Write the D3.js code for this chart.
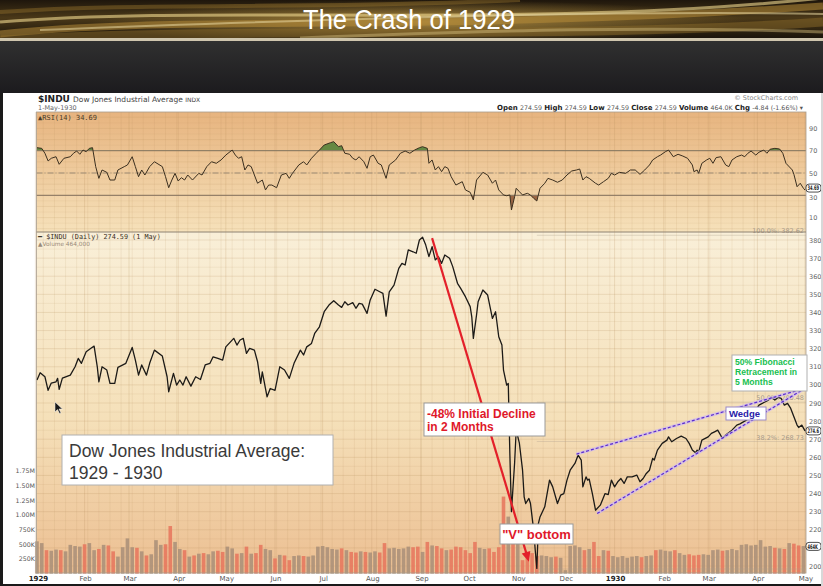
<!DOCTYPE html>
<html lang="en">
<head>
<meta charset="UTF-8">
<title>The Crash of 1929</title>
<script src="https://d3js.org/d3.v7.min.js"></script>
<style>
  body { margin: 0; background: #111; }
  svg { display: block; }
</style>
</head>
<body>
<svg id="chart" width="823" height="586"></svg>
<script>
// daily closes
var priceData = [
  ["1929-01-02",302.7],["1929-01-04",306.7],["1929-01-07",304.5],["1929-01-09",297],["1929-01-11",301],
  ["1929-01-14",301.7],["1929-01-15",303.6],["1929-01-16",297.5],["1929-01-18",303.7],["1929-01-23",305.4],
  ["1929-01-26",310],["1929-01-28",314.6],["1929-01-30",311.9],["1929-02-02",318.3],["1929-02-05",320.2],
  ["1929-02-07",321.4],["1929-02-09",310],["1929-02-10",301.7],["1929-02-12",310],["1929-02-15",308.2],
  ["1929-02-17",300.8],["1929-02-20",300.8],["1929-02-22",309.7],["1929-02-27",311.9],["1929-03-03",320.7],
  ["1929-03-05",313.7],["1929-03-07",305.4],["1929-03-09",311],["1929-03-12",305.4],["1929-03-14",311.9],
  ["1929-03-17",319.2],["1929-03-22",315.9],["1929-03-25",304.5],["1929-03-26",296.2],["1929-03-29",306.4],
  ["1929-03-31",299.9],["1929-04-02",302.7],["1929-04-04",299.9],["1929-04-06",304.5],["1929-04-09",299.3],
  ["1929-04-12",304.5],["1929-04-15",303],["1929-04-18",311],["1929-04-21",311.9],["1929-04-23",315.5],
  ["1929-04-26",314.6],["1929-04-29",313.7],["1929-05-01",321],["1929-05-06",325.7],["1929-05-08",322],
  ["1929-05-10",324.8],["1929-05-12",325.7],["1929-05-14",317.4],["1929-05-16",320.2],["1929-05-19",319.2],
  ["1929-05-21",312.8],["1929-05-23",300.8],["1929-05-24",307.2],["1929-05-27",293.4],["1929-05-29",298],
  ["1929-06-01",297],["1929-06-04",310],["1929-06-07",308.2],["1929-06-10",303.6],["1929-06-13",311.9],
  ["1929-06-17",319.2],["1929-06-19",316.5],["1929-06-21",321],["1929-06-24",322.9],["1929-06-26",328.4],
  ["1929-06-29",332.1],["1929-07-02",340.4],["1929-07-05",344.1],["1929-07-08",346.5],["1929-07-11",344.1],
  ["1929-07-13",342.8],["1929-07-15",345.9],["1929-07-17",344.1],["1929-07-20",345.4],["1929-07-22",342.3],
  ["1929-07-24",345],["1929-07-26",344.6],["1929-07-29",339.5],["1929-07-31",346.9],["1929-08-03",352.8],
  ["1929-08-06",351.4],["1929-08-08",350.5],["1929-08-10",338],["1929-08-12",351.4],["1929-08-15",355.1],
  ["1929-08-18",364.3],["1929-08-20",367.1],["1929-08-22",366.2],["1929-08-24",374.5],["1929-08-27",373.5],
  ["1929-08-29",372.7],["1929-08-31",380],["1929-09-02",381.5],["1929-09-04",377.2],["1929-09-06",370.8],
  ["1929-09-08",376.3],["1929-09-10",369],["1929-09-12",370.8],["1929-09-14",367.1],["1929-09-16",371.7],
  ["1929-09-19",369.9],["1929-09-21",365.3],["1929-09-24",356.1],["1929-09-26",353.3],["1929-09-29",348.7],
  ["1929-10-02",343.2],["1929-10-03",337.6],["1929-10-04",325.7],["1929-10-06",338.6],["1929-10-07",345.9],
  ["1929-10-10",352.4],["1929-10-13",349.6],["1929-10-16",336.7],["1929-10-18",340.4],["1929-10-20",326.6],
  ["1929-10-22",322],["1929-10-23",308.2],["1929-10-25",299.9],["1929-10-26",300.8],["1929-10-27",262],
  ["1929-10-28",230],["1929-10-30",257],["1929-10-31",275],["1929-11-02",267.8],["1929-11-04",252.9],
  ["1929-11-05",238.2],["1929-11-06",234.5],["1929-11-08",237.3],["1929-11-09",234.5],["1929-11-11",219.8],
  ["1929-11-12",208.7],["1929-11-13",198.7],["1929-11-14",223.5],["1929-11-15",227.1],["1929-11-18",232.7],
  ["1929-11-21",247.4],["1929-11-23",243.7],["1929-11-26",234.5],["1929-11-28",239.1],["1929-11-30",240],
  ["1929-12-02",247.4],["1929-12-04",252.9],["1929-12-07",256.6],["1929-12-09",261.2],["1929-12-11",258.5],
  ["1929-12-12",243.7],["1929-12-14",249.2],["1929-12-15",247.4],["1929-12-16",248],["1929-12-18",240],
  ["1929-12-20",230.8],["1929-12-23",233.6],["1929-12-26",240],["1929-12-28",239.4],["1929-12-30",247.4],
  ["1930-01-01",243.7],["1930-01-03",246.5],["1930-01-05",248.3],["1930-01-07",245.6],["1930-01-09",249.2],
  ["1930-01-12",249.2],["1930-01-15",250.2],["1930-01-17",246.5],["1930-01-19",248.3],["1930-01-21",251.1],
  ["1930-01-23",252.9],["1930-01-25",259.4],["1930-01-26",258.5],["1930-01-28",264],["1930-01-31",267.7],
  ["1930-02-03",269.5],["1930-02-04",271.3],["1930-02-06",268.6],["1930-02-09",270.4],["1930-02-12",271.7],
  ["1930-02-15",270.4],["1930-02-17",267.7],["1930-02-19",264],["1930-02-21",262.5],["1930-02-22",264],
  ["1930-02-23",263],["1930-02-25",269.5],["1930-03-01",271.3],["1930-03-03",273.2],["1930-03-05",274.1],
  ["1930-03-07",275],["1930-03-10",270.4],["1930-03-12",272.3],["1930-03-16",275],["1930-03-19",277.8],
  ["1930-03-21",278.5],["1930-03-24",280],["1930-03-26",281],["1930-03-29",282],["1930-03-31",286],
  ["1930-04-02",288.8],["1930-04-06",290.7],["1930-04-08",291.6],["1930-04-10",293.1],["1930-04-12",291.6],
  ["1930-04-14",293.1],["1930-04-16",292.5],["1930-04-18",288.8],["1930-04-20",289.8],["1930-04-22",287],
  ["1930-04-24",282.4],["1930-04-26",277.8],["1930-04-27",276.5],["1930-04-29",277.8],["1930-05-01",274.59]
];

// RSI(14)
var rsiData = [
  ["1929-01-02",72.7],["1929-01-05",72.1],["1929-01-07",67.7],["1929-01-09",60.8],["1929-01-11",63.2],
  ["1929-01-14",64.6],["1929-01-16",57.8],["1929-01-19",63.2],["1929-01-23",64.6],["1929-01-25",67.7],
  ["1929-01-27",69.7],["1929-01-29",66.8],["1929-01-31",70.6],["1929-02-02",69.1],["1929-02-04",72.1],
  ["1929-02-06",72.7],["1929-02-08",55.7],["1929-02-10",45.2],["1929-02-12",52.7],["1929-02-15",50.6],
  ["1929-02-17",43.7],["1929-02-20",43.7],["1929-02-22",52.7],["1929-02-26",55.7],["1929-02-28",57.2],
  ["1929-03-03",64.6],["1929-03-05",55.7],["1929-03-07",46.7],["1929-03-09",52.7],["1929-03-11",48.2],
  ["1929-03-14",55.7],["1929-03-17",60.1],["1929-03-22",55.7],["1929-03-24",46.7],["1929-03-26",36.8],
  ["1929-03-28",43.7],["1929-03-30",49.7],["1929-04-01",42.8],["1929-04-03",45.8],["1929-04-05",43.7],
  ["1929-04-07",48.2],["1929-04-10",43.7],["1929-04-14",49.7],["1929-04-16",48.2],["1929-04-19",55.7],
  ["1929-04-22",60.1],["1929-04-25",58.7],["1929-04-28",61.7],["1929-05-01",66.1],["1929-05-05",70.6],
  ["1929-05-07",66.1],["1929-05-09",63.2],["1929-05-11",64.6],["1929-05-13",52.7],["1929-05-15",57.2],
  ["1929-05-17",55.7],["1929-05-19",48.2],["1929-05-21",40.8],["1929-05-24",43.7],["1929-05-26",34.8],
  ["1929-05-28",39.2],["1929-05-30",39.2],["1929-06-02",36.8],["1929-06-05",48.2],["1929-06-08",49.7],
  ["1929-06-10",45.2],["1929-06-12",49.7],["1929-06-16",57.2],["1929-06-19",60.1],["1929-06-21",57.2],
  ["1929-06-24",63.2],["1929-06-27",67.7],["1929-06-29",70.6],["1929-07-02",75.1],["1929-07-06",77.2],
  ["1929-07-08",78.1],["1929-07-11",73.6],["1929-07-13",74.5],["1929-07-15",67.7],["1929-07-18",66.8],
  ["1929-07-20",63.2],["1929-07-22",61.7],["1929-07-24",64.6],["1929-07-27",60.1],["1929-07-29",54.2],
  ["1929-07-31",64.6],["1929-08-02",66.1],["1929-08-05",58.7],["1929-08-07",57.2],["1929-08-10",45.2],
  ["1929-08-12",57.2],["1929-08-16",61.7],["1929-08-19",67.7],["1929-08-22",69.7],["1929-08-25",67.7],
  ["1929-08-28",70.6],["1929-08-31",72.7],["1929-09-02",73.6],["1929-09-05",72.1],["1929-09-06",58.7],
  ["1929-09-08",61.7],["1929-09-10",52.7],["1929-09-12",55.7],["1929-09-14",51.2],["1929-09-16",55.7],
  ["1929-09-18",54.2],["1929-09-20",46.7],["1929-09-23",39.2],["1929-09-27",42.2],["1929-09-29",34.8],
  ["1929-10-02",32.7],["1929-10-04",25.8],["1929-10-06",43.7],["1929-10-10",50.6],["1929-10-13",48.2],
  ["1929-10-16",40.8],["1929-10-18",43.7],["1929-10-20",34.8],["1929-10-23",30.3],["1929-10-25",29.6],
  ["1929-10-27",30.3],["1929-10-28",16.8],["1929-10-30",28.7],["1929-10-31",36.3],["1929-11-02",33.2],
  ["1929-11-04",30.3],["1929-11-07",31.8],["1929-11-09",30.3],["1929-11-11",27.3],["1929-11-13",24.9],
  ["1929-11-15",36.3],["1929-11-18",40.8],["1929-11-20",45.2],["1929-11-23",43.7],["1929-11-26",41.7],
  ["1929-11-29",43.7],["1929-12-02",48.2],["1929-12-05",51.8],["1929-12-08",52.7],["1929-12-10",53.6],
  ["1929-12-12",43.7],["1929-12-14",46.7],["1929-12-16",45.2],["1929-12-20",40.8],["1929-12-22",39.2],
  ["1929-12-25",42.2],["1929-12-28",45.2],["1929-12-30",49.7],["1930-01-01",48.2],["1930-01-04",50.6],
  ["1930-01-08",49.7],["1930-01-11",52.7],["1930-01-14",52.7],["1930-01-17",48.8],["1930-01-20",52.7],
  ["1930-01-23",57.2],["1930-01-25",61.7],["1930-01-28",64.6],["1930-01-30",66.1],["1930-02-02",69.1],
  ["1930-02-04",70.6],["1930-02-07",64.6],["1930-02-10",66.8],["1930-02-13",65.2],["1930-02-16",63.2],
  ["1930-02-19",57.2],["1930-02-20",51.2],["1930-02-22",52.7],["1930-02-23",49.7],["1930-02-25",58.7],
  ["1930-02-28",61.7],["1930-03-02",63.2],["1930-03-04",58.7],["1930-03-06",63.8],["1930-03-09",64.6],
  ["1930-03-12",57.2],["1930-03-14",55.7],["1930-03-16",61.7],["1930-03-19",64.6],["1930-03-22",66.1],
  ["1930-03-24",64.6],["1930-03-26",67.7],["1930-03-28",69.7],["1930-03-31",66.1],["1930-04-02",68.6],
  ["1930-04-05",70.6],["1930-04-07",67.7],["1930-04-09",71.3],["1930-04-12",72.1],["1930-04-15",71.5],
  ["1930-04-17",67.7],["1930-04-19",58.7],["1930-04-20",57.2],["1930-04-23",52.7],["1930-04-24",48.8],
  ["1930-04-26",37.7],["1930-04-28",40.8],["1930-04-30",36.3],["1930-05-01",34.69]
];

// volume in thousands, one bar every 3 days from volStart
var volStart = "1929-01-02";
var volumeK = [
  550,520,400,390,410,400,380,490,470,460,
  500,520,400,420,490,480,380,290,450,600,
  450,440,380,310,330,570,490,500,810,540,
  420,400,290,310,340,350,330,380,390,370,
  460,430,340,350,460,340,350,490,420,400,
  260,320,310,230,300,310,300,290,310,460,
  470,450,420,410,430,400,370,360,380,370,
  360,380,360,520,430,440,420,430,460,450,
  460,370,540,480,470,430,400,410,460,450,
  400,350,540,440,420,430,370,450,1310,970,
  800,690,230,370,350,300,310,300,280,290,
  270,60,470,480,450,400,420,540,300,400,
  390,300,280,300,270,290,300,280,300,310,
  400,410,390,380,400,350,320,330,310,320,
  330,320,400,410,390,400,420,400,490,500,
  480,490,570,460,470,440,430,420,520,510,
  480,470
];

var monthTicks = ["1929-01-01","1929-02-01","1929-03-01","1929-04-01","1929-05-01","1929-06-01","1929-07-01",
  "1929-08-01","1929-09-01","1929-10-01","1929-11-01","1929-12-01","1930-01-01","1930-02-01","1930-03-01",
  "1930-04-01","1930-05-01"];
var monthLabels = ["1929","Feb","Mar","Apr","May","Jun","Jul","Aug","Sep","Oct","Nov","Dec","1930","Feb","Mar","Apr","May"];
var priceTicks = [200,220,230,240,250,260,270,280,290,300,310,320,330,340,350,360,370,380];
var rsiTicks = [10,30,50,70,90];
var volTicks = [250000,500000,750000,1000000,1250000,1500000,1750000];
var volTickLabels = ["250K","500K","750K","1.00M","1.25M","1.50M","1.75M"];

// fibonacci levels and hand-drawn annotation lines
var fibLabels = ["100.0%: 382.62","50.0%: 290.48","38.2%: 268.73"];
var fibValues = [382.62, 290.48, 268.73];
var fibLow = 198.33;
var fibStart = "1929-11-13";
var declineArrow = [["1929-09-08",381],["1929-11-08",202.3]];
var wedgeUpper = [["1929-12-08",261.8],["1930-05-01",298.1]];
var wedgeLower = [["1929-12-21",229],["1930-05-01",298.1]];

var parse = d3.timeParse("%Y-%m-%d");
var prices = priceData.map(d => ({ date: parse(d[0]), close: d[1] }));
var rsi = rsiData.map(d => ({ date: parse(d[0]), value: d[1] }));
var volumes = volumeK.map((v, i) => ({ date: d3.timeDay.offset(parse(volStart), 3 * i), value: v * 1000 }));

var svg = d3.select("#chart");
var defs = svg.append("defs");

// ---------- slide background ----------
var bannerGrad = defs.append("linearGradient").attr("id", "banner").attr("x1", 0).attr("y1", 0).attr("x2", 0).attr("y2", 1);
bannerGrad.append("stop").attr("offset", "0%").attr("stop-color", "#1e160c");
bannerGrad.append("stop").attr("offset", "45%").attr("stop-color", "#4a3818");
bannerGrad.append("stop").attr("offset", "100%").attr("stop-color", "#16110a");

var glow = defs.append("radialGradient").attr("id", "glow").attr("cx", "50%").attr("cy", "50%").attr("r", "50%");
glow.append("stop").attr("offset", "0%").attr("stop-color", "#c9a24a").attr("stop-opacity", 0.75);
glow.append("stop").attr("offset", "100%").attr("stop-color", "#c9a24a").attr("stop-opacity", 0);

var bandGrad = defs.append("linearGradient").attr("id", "band").attr("x1", 0).attr("y1", 0).attr("x2", 0).attr("y2", 1);
bandGrad.append("stop").attr("offset", "0%").attr("stop-color", "#303030");
bandGrad.append("stop").attr("offset", "100%").attr("stop-color", "#1c1b1e");

svg.append("rect").attr("width", 823).attr("height", 586).attr("fill", "#161616");
svg.append("rect").attr("width", 823).attr("height", 40).attr("fill", "url(#banner)");
svg.append("ellipse").attr("cx", 420).attr("cy", 22).attr("rx", 330).attr("ry", 22).attr("fill", "url(#glow)");

var swooshes = [
  { d: "M0,34 C180,14 420,34 823,6", w: 7, c: "#b48a38", o: 0.55 },
  { d: "M0,22 C220,4 520,30 823,-2", w: 3, c: "#f0d890", o: 0.6 },
  { d: "M0,40 C260,26 560,40 823,22", w: 9, c: "#8a6a2a", o: 0.5 },
  { d: "M40,30 C300,20 600,10 823,14", w: 2, c: "#e8d7a0", o: 0.55 },
  { d: "M0,12 C150,2 300,10 520,0", w: 4, c: "#a07a30", o: 0.4 },
  { d: "M300,38 C500,30 650,26 823,32", w: 3, c: "#d8c080", o: 0.45 }
];
svg.append("g").selectAll("path")
  .data(swooshes)
  .enter().append("path")
  .attr("d", d => d.d)
  .attr("fill", "none")
  .attr("stroke", d => d.c)
  .attr("stroke-width", d => d.w)
  .attr("stroke-opacity", d => d.o);

svg.append("rect").attr("x", 0).attr("y", 38).attr("width", 823).attr("height", 3).attr("fill", "#cfc6ae");
svg.append("rect").attr("x", 0).attr("y", 41).attr("width", 823).attr("height", 52).attr("fill", "url(#band)");

svg.append("text")
  .attr("x", 409).attr("y", 29)
  .attr("text-anchor", "middle")
  .attr("textLength", 212).attr("lengthAdjust", "spacingAndGlyphs")
  .style("font-family", "'Liberation Sans Narrow', 'Liberation Sans', Arial, sans-serif")
  .style("font-size", "28px")
  .style("fill", "#ffffff")
  .text("The Crash of 1929");

// white chart page
svg.append("rect").attr("x", 3).attr("y", 93).attr("width", 818).attr("height", 491).attr("fill", "#ffffff");

// ---------- scales ----------
var plotLeft = 36.5, plotRight = 806;
var rsiTop = 112, rsiBottom = 232, priceTop = 232, priceBottom = 573;

var x = d3.scaleTime()
  .domain([parse("1929-01-01"), parse("1930-05-01")])
  .range([35.4, 805]);
var yPrice = d3.scaleLinear().domain([200, 380]).range([566, 240]);
var yRsi = d3.scaleLinear().domain([30, 70]).range([195.3, 150.7]);
var yVol = d3.scaleLinear().domain([0, 1750000]).range([573.7, 470.7]);

// panel backgrounds
var rsiGrad = defs.append("linearGradient").attr("id", "rsiBg").attr("x1", 0).attr("y1", 0).attr("x2", 0).attr("y2", 1);
rsiGrad.append("stop").attr("offset", "0%").attr("stop-color", "#e7b47f");
rsiGrad.append("stop").attr("offset", "100%").attr("stop-color", "#f6e1ba");
var priceGrad = defs.append("linearGradient").attr("id", "priceBg").attr("x1", 0).attr("y1", 0).attr("x2", 0).attr("y2", 1);
priceGrad.append("stop").attr("offset", "0%").attr("stop-color", "#f9efd8");
priceGrad.append("stop").attr("offset", "55%").attr("stop-color", "#f5e0b9");
priceGrad.append("stop").attr("offset", "100%").attr("stop-color", "#ecbf92");

svg.append("rect").attr("x", plotLeft).attr("y", rsiTop).attr("width", plotRight - plotLeft).attr("height", rsiBottom - rsiTop).attr("fill", "url(#rsiBg)");
svg.append("rect").attr("x", plotLeft).attr("y", priceTop).attr("width", plotRight - plotLeft).attr("height", priceBottom - priceTop).attr("fill", "url(#priceBg)");

// fine grid
var grid = svg.append("g").attr("stroke", "#b48c5a");
var weeks = d3.timeWeek.range(x.domain()[0], x.domain()[1]);
grid.selectAll("line.week")
  .data(weeks)
  .enter().append("line")
  .attr("class", "week")
  .attr("x1", d => x(d)).attr("x2", d => x(d))
  .attr("y1", rsiTop).attr("y2", priceBottom)
  .attr("stroke-opacity", 0.12);
grid.selectAll("line.month")
  .data(monthTicks.map(parse))
  .enter().append("line")
  .attr("class", "month")
  .attr("x1", d => x(d)).attr("x2", d => x(d))
  .attr("y1", rsiTop).attr("y2", priceBottom)
  .attr("stroke-opacity", 0.22);
grid.selectAll("line.ph")
  .data(d3.range(200, 385, 5))
  .enter().append("line")
  .attr("class", "ph")
  .attr("x1", plotLeft).attr("x2", plotRight)
  .attr("y1", d => yPrice(d)).attr("y2", d => yPrice(d))
  .attr("stroke-opacity", d => d % 10 === 0 ? 0.2 : 0.1);
grid.selectAll("line.rh")
  .data(d3.range(0, 101, 5))
  .enter().append("line")
  .attr("class", "rh")
  .attr("x1", plotLeft).attr("x2", plotRight)
  .attr("y1", d => yRsi(d)).attr("y2", d => yRsi(d))
  .attr("stroke-opacity", d => (d % 10 === 0 && yRsi(d) > rsiTop && yRsi(d) < rsiBottom) ? 0.16 : 0.08);

// ---------- volume ----------
var bisectDate = d3.bisector(d => d.date).right;
function isDown(date) {
  var i = bisectDate(prices, date) - 1;
  if (i < 1) return false;
  return prices[i].close < prices[i - 1].close;
}
svg.append("g").selectAll("rect")
  .data(volumes)
  .enter().append("rect")
  .attr("x", d => x(d.date) - 1.8)
  .attr("width", 3.6)
  .attr("y", d => yVol(d.value))
  .attr("height", d => yVol(0) - yVol(d.value))
  .attr("fill", d => isDown(d.date) ? "#e6745c" : "#a88e78")
  .attr("fill-opacity", 0.85);

// ---------- fibonacci lines ----------
var fibG = svg.append("g");
fibG.selectAll("line")
  .data(fibValues.concat([fibLow]))
  .enter().append("line")
  .attr("x1", x(parse(fibStart))).attr("x2", plotRight)
  .attr("y1", d => yPrice(d)).attr("y2", d => yPrice(d))
  .attr("stroke", "#b0a090").attr("stroke-opacity", 0.35);
fibG.selectAll("text")
  .data(fibLabels)
  .enter().append("text")
  .attr("x", 804)
  .attr("y", (d, i) => yPrice(fibValues[i]) - 2)
  .attr("text-anchor", "end")
  .style("font-family", "'DejaVu Sans', sans-serif")
  .style("font-size", "6.5px")
  .style("fill", "#a69a8a")
  .text(d => d);

// ---------- RSI panel ----------
var rsiG = svg.append("g");
defs.append("clipPath").attr("id", "overbought").append("rect")
  .attr("x", plotLeft).attr("y", rsiTop).attr("width", plotRight - plotLeft).attr("height", yRsi(70) - rsiTop);
defs.append("clipPath").attr("id", "oversold").append("rect")
  .attr("x", plotLeft).attr("y", yRsi(30)).attr("width", plotRight - plotLeft).attr("height", rsiBottom - yRsi(30));

rsiG.append("path")
  .datum(rsi)
  .attr("clip-path", "url(#overbought)")
  .attr("fill", "#4f7f35").attr("fill-opacity", 0.85)
  .attr("d", d3.area().x(d => x(d.date)).y0(yRsi(70)).y1(d => yRsi(d.value)));
rsiG.append("path")
  .datum(rsi)
  .attr("clip-path", "url(#oversold)")
  .attr("fill", "#8c5434").attr("fill-opacity", 0.85)
  .attr("d", d3.area().x(d => x(d.date)).y0(yRsi(30)).y1(d => yRsi(d.value)));

rsiG.selectAll("line.lvl")
  .data([70, 30])
  .enter().append("line")
  .attr("x1", plotLeft).attr("x2", plotRight)
  .attr("y1", d => yRsi(d)).attr("y2", d => yRsi(d))
  .attr("stroke", "#857561").attr("stroke-width", 1);
rsiG.append("line")
  .attr("x1", plotLeft).attr("x2", plotRight)
  .attr("y1", yRsi(50)).attr("y2", yRsi(50))
  .attr("stroke", "#9c8a74").attr("stroke-dasharray", "6,2,1,2");

rsiG.append("path")
  .datum(rsi)
  .attr("fill", "none")
  .attr("stroke", "#3b2f1f")
  .attr("stroke-width", 1)
  .attr("d", d3.line().x(d => x(d.date)).y(d => yRsi(d.value)));

// ---------- panel borders ----------
svg.append("rect").attr("x", plotLeft).attr("y", rsiTop).attr("width", plotRight - plotLeft).attr("height", priceBottom - rsiTop)
  .attr("fill", "none").attr("stroke", "#a89c8c").attr("stroke-width", 0.8);
svg.append("line").attr("x1", plotLeft).attr("x2", plotRight).attr("y1", rsiBottom).attr("y2", rsiBottom)
  .attr("stroke", "#8e8272").attr("stroke-width", 1);

// ---------- price line ----------
defs.append("clipPath").attr("id", "pricePanel").append("rect")
  .attr("x", plotLeft).attr("y", priceTop).attr("width", plotRight - plotLeft).attr("height", priceBottom - priceTop);
svg.append("path")
  .datum(prices)
  .attr("clip-path", "url(#pricePanel)")
  .attr("fill", "none")
  .attr("stroke", "#1c1a17")
  .attr("stroke-width", 1.3)
  .attr("stroke-linejoin", "round")
  .attr("d", d3.line().x(d => x(d.date)).y(d => yPrice(d.close)));

// ---------- axes labels ----------
var axisFont = "'DejaVu Sans', Verdana, sans-serif";
svg.append("g").selectAll("text")
  .data(priceTicks)
  .enter().append("text")
  .attr("x", 809).attr("y", d => yPrice(d) + 2.5)
  .style("font-family", axisFont).style("font-size", "6.5px").style("fill", "#666")
  .text(d => d);
svg.append("g").selectAll("text")
  .data(rsiTicks)
  .enter().append("text")
  .attr("x", 809).attr("y", d => yRsi(d) + (d === 30 ? 5 : 2.5))
  .style("font-family", axisFont).style("font-size", "6.5px").style("fill", "#666")
  .text(d => d);
svg.append("g").selectAll("text")
  .data(volTicks)
  .enter().append("text")
  .attr("x", 35).attr("y", d => yVol(d) + 2.5)
  .attr("text-anchor", "end")
  .style("font-family", axisFont).style("font-size", "6.3px").style("fill", "#555")
  .text((d, i) => volTickLabels[i]);
svg.append("g").selectAll("text")
  .data(monthTicks)
  .enter().append("text")
  .attr("x", (d, i) => x(parse(d)) + (i === 0 ? 3 : 1))
  .attr("y", 581)
  .attr("text-anchor", "middle")
  .style("font-family", axisFont)
  .style("font-size", "7px")
  .style("font-weight", (d, i) => (i === 0 || i === 12) ? "bold" : "normal")
  .style("fill", (d, i) => (i === 0 || i === 12) ? "#222" : "#555")
  .text((d, i) => monthLabels[i]);

// last-value tags at the right edge
var tags = [
  { y: yRsi(34.69) - 2, t: "34.69" },
  { y: yPrice(274.59), t: "274.6" },
  { y: yVol(464000), t: "464K" }
];
var tagG = svg.append("g").selectAll("g").data(tags).enter().append("g");
tagG.append("rect")
  .attr("x", 806).attr("y", d => d.y - 4).attr("width", 15).attr("height", 8).attr("rx", 3)
  .attr("fill", "#ffffff").attr("stroke", "#222").attr("stroke-width", 0.8);
tagG.append("text")
  .attr("transform", d => "translate(807.5," + (d.y + 2.2) + ") scale(0.58,1)")
  .style("font-family", axisFont).style("font-size", "6.3px").style("font-weight", "bold").style("fill", "#222")
  .text(d => d.t);

// ---------- header texts ----------
var hdr = svg.append("g").style("font-family", axisFont);
var t1 = hdr.append("text").attr("x", 38).attr("y", 101.5);
t1.append("tspan").style("font-size", "9px").style("font-weight", "bold").style("fill", "#222").text("$INDU ");
t1.append("tspan").style("font-size", "7.5px").style("fill", "#444").text("Dow Jones Industrial Average ");
t1.append("tspan").style("font-size", "6px").style("fill", "#444").text("INDX");
hdr.append("text").attr("x", 38).attr("y", 110).style("font-size", "6.5px").style("fill", "#666").text("1-May-1930");
hdr.append("text").attr("x", 798).attr("y", 99.5).attr("text-anchor", "end")
  .style("font-size", "6.5px").style("fill", "#888").text("© StockCharts.com");
var t2 = hdr.append("text").attr("x", 803).attr("y", 110).attr("text-anchor", "end").style("font-size", "7px").style("fill", "#555");
[["Open ", "274.59  "], ["High ", "274.59  "], ["Low ", "274.59  "], ["Close ", "274.59  "], ["Volume ", "464.0K  "], ["Chg ", "-4.84 (-1.66%) ▾"]]
  .forEach(function(p) {
    t2.append("tspan").style("font-weight", "bold").style("fill", "#222").text(p[0]);
    t2.append("tspan").style("font-size", "6.3px").text(p[1]);
  });

var mono = "'DejaVu Sans Mono', 'Liberation Mono', monospace";
svg.append("text").attr("x", 38).attr("y", 119.5)
  .style("font-family", mono).style("font-size", "7px").style("fill", "#4a3a28")
  .text("▲RSI(14) 34.69");
svg.append("text").attr("x", 38).attr("y", 238.5)
  .style("font-family", mono).style("font-size", "6.8px").style("fill", "#3a3024")
  .text("━ $INDU (Daily) 274.59 (1 May)");
svg.append("text").attr("x", 38).attr("y", 245.5)
  .style("font-family", axisFont).style("font-size", "5.8px").style("fill", "#9a8a78")
  .text("▲Volume 464,000");

// ---------- annotations ----------
// red decline arrow
var a0 = [x(parse(declineArrow[0][0])), yPrice(declineArrow[0][1])];
var a1 = [x(parse(declineArrow[1][0])), yPrice(declineArrow[1][1])];
var ang = Math.atan2(a1[1] - a0[1], a1[0] - a0[0]);
svg.append("line")
  .attr("x1", a0[0]).attr("y1", a0[1])
  .attr("x2", a1[0] - Math.cos(ang) * 6).attr("y2", a1[1] - Math.sin(ang) * 6)
  .attr("stroke", "#e3202a").attr("stroke-width", 2.2);
svg.append("path")
  .attr("transform", "translate(" + a1[0] + "," + a1[1] + ") rotate(" + (ang * 180 / Math.PI) + ")")
  .attr("d", "M0,0 L-10,-4.5 L-10,4.5 Z")
  .attr("fill", "#e3202a");

// wedge lines
var wedgeLine = d3.line().x(d => x(parse(d[0]))).y(d => yPrice(d[1]));
var wedgeG = svg.append("g");
[wedgeUpper, wedgeLower].forEach(function(w) {
  wedgeG.append("path").attr("d", wedgeLine(w)).attr("fill", "none")
    .attr("stroke", "#cdb8f2").attr("stroke-width", 3.2).attr("stroke-opacity", 0.75);
  wedgeG.append("path").attr("d", wedgeLine(w)).attr("fill", "none")
    .attr("stroke", "#5a2ccc").attr("stroke-width", 1.2).attr("stroke-dasharray", "3,2");
});

function noteBox(bx, by, bw, bh, lines, opts) {
  var g = svg.append("g");
  g.append("rect").attr("x", bx).attr("y", by).attr("width", bw).attr("height", bh)
    .attr("fill", "#ffffff").attr("stroke", opts.stroke || "#9a9a9a").attr("stroke-width", 1);
  g.selectAll("text")
    .data(lines)
    .enter().append("text")
    .attr("x", opts.anchor === "middle" ? bx + bw / 2 : bx + opts.pad)
    .attr("y", (d, i) => by + opts.first + i * opts.lead)
    .attr("text-anchor", opts.anchor || "start")
    .style("font-family", opts.font || "'Liberation Sans', Arial, sans-serif")
    .style("font-size", opts.size)
    .style("font-weight", opts.weight || "bold")
    .style("fill", opts.color)
    .text(d => d);
}

noteBox(62, 435, 271, 50, ["Dow Jones Industrial Average:", "1929 - 1930"],
  { pad: 7, first: 22, lead: 22, size: "17.5px", weight: "normal", color: "#3a3a3a", stroke: "#b0b0b0" });
noteBox(424, 403, 121, 33, ["-48% Initial Decline", "in 2 Months"],
  { pad: 3, first: 14.5, lead: 13.5, size: "12px", color: "#e0182a" });
noteBox(500, 524, 73, 20, ["\"V\" bottom"],
  { anchor: "middle", first: 14.5, lead: 0, size: "13px", color: "#e0182a" });
noteBox(726, 407, 40, 13, ["Wedge"],
  { pad: 3, first: 10, lead: 0, size: "9.5px", color: "#2a1aa8", stroke: "#9a8ac8" });
noteBox(732, 355, 75, 36, ["50% Fibonacci", "Retracement in", "5 Months"],
  { pad: 3, first: 10, lead: 10, size: "8.6px", color: "#18c050", stroke: "#b0b0b0" });

// mouse pointer left on the slide
svg.append("path")
  .attr("d", "M55,402 L55,412 L57.5,409.6 L59.5,413.6 L61,412.9 L59,409 L62.4,409 Z")
  .attr("fill", "#1a1a1a").attr("stroke", "#ffffff").attr("stroke-width", 0.5);

// page frame
svg.append("rect").attr("x", 0).attr("y", 93).attr("width", 3).attr("height", 493).attr("fill", "#1a1a1a");
svg.append("rect").attr("x", 0).attr("y", 584).attr("width", 823).attr("height", 2).attr("fill", "#1a1a1a");
svg.append("rect").attr("x", 821).attr("y", 93).attr("width", 2).attr("height", 493).attr("fill", "#d8d8d8");
</script>
</body>
</html>
